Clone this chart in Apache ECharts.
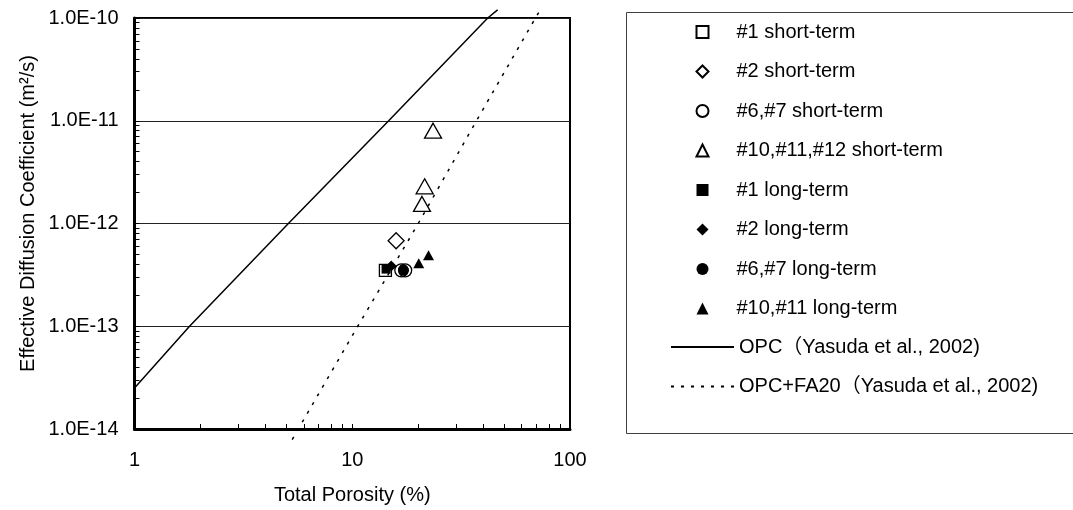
<!DOCTYPE html>
<html>
<head>
<meta charset="utf-8">
<script src="https://cdn.jsdelivr.net/npm/echarts@6/dist/echarts.min.js"></script>
<style>
html,body{margin:0;padding:0;background:#fff;}
#chart{width:1073px;height:510px;}
</style>
</head>
<body>
<div id="chart"></div>
<script>
// 数据
var sq1Short = [[14.2, 3.5e-13]];
var dia2Short = [[15.9, 6.8e-13]];
var cir67Short = [[16.8, 3.5e-13], [17.5, 3.5e-13]];
var tri101112Short = [[20.9, 1.55e-12], [21.5, 2.3e-12], [23.5, 8.0e-12]];
var sq1Long = [[14.3, 3.6e-13]];
var dia2Long = [[15.1, 3.85e-13]];
var cir67Long = [[17.2, 3.5e-13]];
var tri1011Long = [[20.2, 4.1e-13], [22.4, 4.9e-13]];
var opcLine = [[1, 2.5e-14], [1.79, 1e-13], [5.09, 1e-12], [14.7, 1e-11], [41.9, 1e-10], [46.5, 1.2e-10]];
var opcFaLine = [[5.3, 7.9e-15], [10.6, 1e-13], [20.1, 1e-12], [37.2, 1e-11], [69.4, 1e-10], [74, 1.26e-10]];

var scatterNames = ['#1 short-term', '#2 short-term', '#6,#7 short-term', '#10,#11,#12 short-term',
  '#1 long-term', '#2 long-term', '#6,#7 long-term', '#10,#11 long-term'];
var lineNames = ['OPC（Yasuda et al., 2002)', 'OPC+FA20（Yasuda et al., 2002)'];

var FONT = "'Liberation Sans', Arial, 'Noto Sans CJK JP', sans-serif";

// 散点系列
function scatter(name, data, symbol, size, filled) {
  return {
    name: name,
    type: 'scatter',
    data: data,
    symbol: symbol,
    symbolSize: size,
    z: 5,
    itemStyle: filled
      ? { color: '#000', borderColor: '#000', borderWidth: 0, opacity: 1 }
      : { color: 'rgba(0,0,0,0)', borderColor: '#000', borderWidth: 1.3, opacity: 1 }
  };
}

var chart = echarts.init(document.getElementById('chart'), null, { renderer: 'canvas' });

var option = {
  animation: false,
  backgroundColor: '#fff',
  textStyle: { fontFamily: FONT },
  grid: {
    left: 134.5, right: 503, top: 18, bottom: 81,
    show: true, borderColor: '#000', borderWidth: 2, backgroundColor: 'transparent'
  },
  graphic: [{
    type: 'rect', left: 624, top: 10, z: 0,
    shape: { width: 470, height: 421 },
    style: { fill: 'none', stroke: '#404040', lineWidth: 1 }
  }],
  legend: [{
    data: scatterNames,
    orient: 'vertical',
    left: 695.5, top: 22, padding: 0,
    itemWidth: 12, itemHeight: 12, itemGap: 19.5,
    textStyle: { fontSize: 20, lineHeight: 20, color: '#000', fontFamily: FONT, padding: [0, 0, 0, 23] }
  }, {
    data: lineNames,
    orient: 'vertical',
    left: 670, top: 337, padding: 0,
    itemWidth: 63, itemHeight: 12, itemGap: 19.5,
    itemStyle: { opacity: 0 },   // 只显示线，不显示中间的点
    textStyle: { fontSize: 20, lineHeight: 20, color: '#000', fontFamily: FONT }
  }],
  xAxis: {
    type: 'log', logBase: 10, min: 1, max: 100,
    name: 'Total Porosity (%)', nameLocation: 'middle', nameGap: 56,
    nameTextStyle: { fontSize: 20, color: '#000', fontFamily: FONT },
    axisLine: { show: true, lineStyle: { color: '#000', width: 3 } },
    axisTick: { show: true, inside: true, length: 5, lineStyle: { color: '#000', width: 1 } },
    minorTick: { show: true, splitNumber: 9, length: 5, lineStyle: { color: '#000', width: 1 } },
    axisLabel: { fontSize: 20, color: '#000', margin: 21, fontFamily: FONT, showMinLabel: true, showMaxLabel: true },
    splitLine: { show: false }
  },
  yAxis: {
    type: 'log', logBase: 10, min: 1e-14, max: 1e-10,
    name: 'Effective Diffusion Coefficient (m²/s)', nameLocation: 'middle', nameGap: 96,
    nameTextStyle: { fontSize: 20, color: '#000', fontFamily: FONT, padding: [0, 0, 0, 20] },
    axisLine: { show: true, lineStyle: { color: '#000', width: 3 } },
    axisTick: { show: true, inside: true, length: 5, lineStyle: { color: '#000', width: 1 } },
    minorTick: { show: true, splitNumber: 9, length: 5, lineStyle: { color: '#000', width: 1 } },
    axisLabel: {
      fontSize: 20, color: '#000', margin: 16, fontFamily: FONT, showMinLabel: true, showMaxLabel: true,
      formatter: function (v) { return Number(v).toExponential(1).toUpperCase(); }
    },
    splitLine: { show: true, lineStyle: { color: '#222', width: 1 } }
  },
  series: [
    {
      name: lineNames[0], type: 'line', data: opcLine, symbol: 'none', clip: false, z: 3,
      lineStyle: { color: '#000', width: 1.5, type: 'solid' }, itemStyle: { color: '#000' }
    },
    {
      name: lineNames[1], type: 'line', data: opcFaLine, symbol: 'none', clip: false, z: 3,
      lineStyle: { color: '#000', width: 1.5, type: [3, 7] }, itemStyle: { color: '#000' }
    },
    scatter(scatterNames[0], sq1Short, 'rect', 12, false),
    scatter(scatterNames[1], dia2Short, 'diamond', 16, false),
    scatter(scatterNames[2], cir67Short, 'circle', 13, false),
    scatter(scatterNames[3], tri101112Short, 'triangle', [17, 15], false),
    scatter(scatterNames[4], sq1Long, 'rect', 9, true),
    scatter(scatterNames[5], dia2Long, 'diamond', 11, true),
    scatter(scatterNames[6], cir67Long, 'circle', 11, true),
    scatter(scatterNames[7], tri1011Long, 'triangle', [11, 10], true)
  ]
};

chart.setOption(option);
</script>
</body>
</html>
